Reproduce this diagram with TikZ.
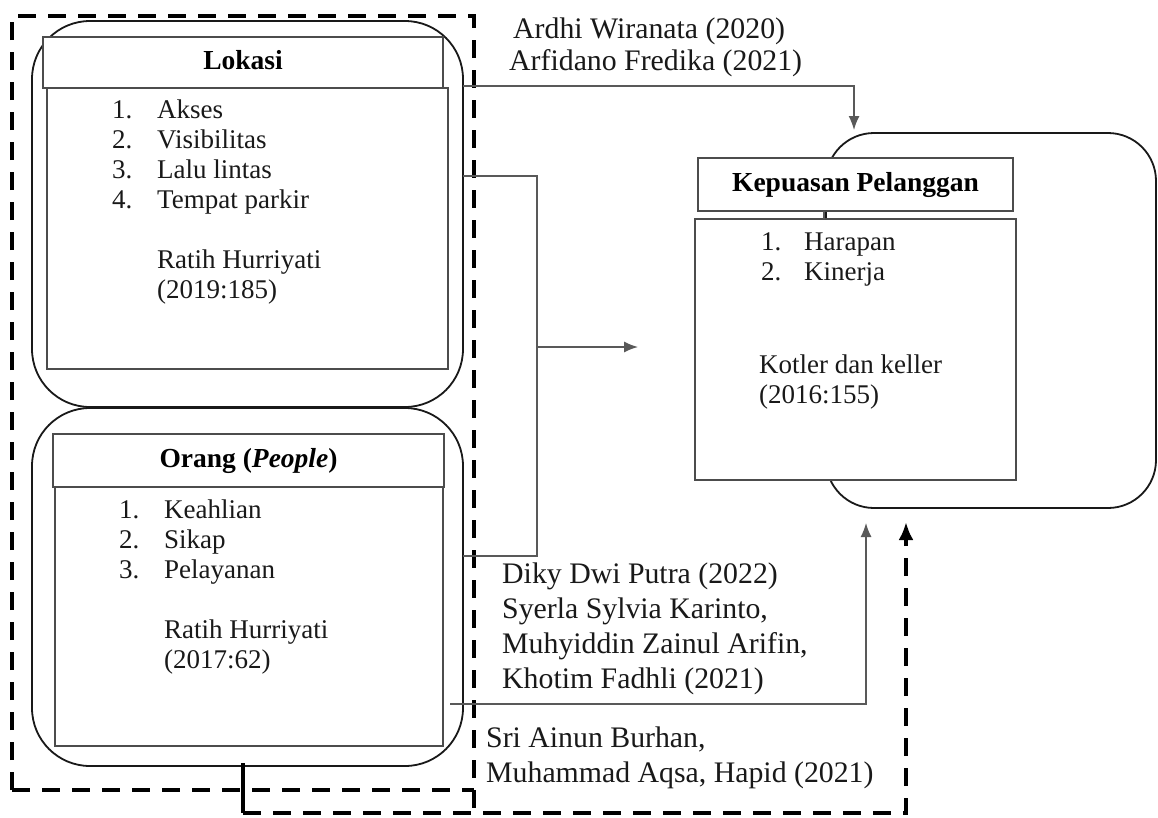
\documentclass[tikz,border=0pt]{standalone}
\usepackage{fontspec}
\setmainfont{Liberation Serif}
\usetikzlibrary{arrows.meta,calc}
\begin{document}
\begin{tikzpicture}[x=1pt,y=-1pt,
  rr/.style={draw=black!90,line width=1.8pt,rounded corners=#1,inner sep=0pt,outer sep=0pt},
  rr/.default=58pt,
  hbox/.style={draw=black!70,line width=1.6pt,fill=white,inner sep=0pt,outer sep=0pt,
    font=\fontsize{27.5}{30}\selectfont\bfseries,text height=18pt,text depth=4pt},
  bbox/.style={draw=black!70,line width=1.6pt,fill=white,inner sep=0pt,outer sep=0pt},
  itxt/.style={anchor=base west,inner sep=0pt,font=\fontsize{27}{30}\selectfont,text=black!90},
  otxt/.style={anchor=base west,inner sep=0pt,font=\fontsize{29.8}{35}\selectfont,text=black!90},
  conn/.style={draw=black!65,line width=1.4pt},
  arr/.style={-{Latex[length=14pt,width=11pt]}},
  dashline/.style={draw=black,line width=4pt,dash pattern=on 18pt off 12pt}
]
\useasboundingbox (0,0) rectangle (1158,817);
\fill[white] (0,0) rectangle (1158,817);

% dashed group boxes
\draw[dashline] (12,790) -- (12,16) -- (474,16) -- (474,813);
\draw[dashline] (12,790) -- (474,790);

% Lokasi
\node[rr,minimum width=431pt,minimum height=386pt] (lokRR) at (247.5,214) {};
\node[hbox,minimum width=400pt,minimum height=51pt] (lokHead) at (243,62.5) {Lokasi};
\node[bbox,minimum width=401pt,minimum height=281pt] (lokBody) at (247.5,228.5) {};
\node[itxt] (l1n) at (112,118) {1.};
\node[itxt] (l1) at (157,118) {Akses};
\node[itxt] (l2n) at (112,148) {2.};
\node[itxt] (l2) at (157,148) {Visibilitas};
\node[itxt] (l3n) at (112,178) {3.};
\node[itxt] (l3) at (157,178) {Lalu lintas};
\node[itxt] (l4n) at (112,208) {4.};
\node[itxt] (l4) at (157,208) {Tempat parkir};
\node[itxt] (lr1) at (157,268) {Ratih Hurriyati};
\node[itxt] (lr2) at (157,298) {(2019:185)};

% Orang
\node[rr,minimum width=431pt,minimum height=358pt] (orRR) at (247.5,587) {};
\node[hbox,minimum width=391pt,minimum height=53pt] (orHead) at (248.5,460.5) {Orang (\textit{People})};
\node[bbox,minimum width=388pt,minimum height=259pt] (orBody) at (249,616.5) {};
\node[itxt] (o1n) at (119,518) {1.};
\node[itxt] (o1) at (164,518) {Keahlian};
\node[itxt] (o2n) at (119,548) {2.};
\node[itxt] (o2) at (164,548) {Sikap};
\node[itxt] (o3n) at (119,578) {3.};
\node[itxt] (o3) at (164,578) {Pelayanan};
\node[itxt] (or1) at (164,638) {Ratih Hurriyati};
\node[itxt] (or2) at (164,668) {(2017:62)};

% Kepuasan Pelanggan
\node[rr=48pt,minimum width=330pt,minimum height=375pt] (kepRR) at (991,320.5) {};
\node[hbox,minimum width=315pt,minimum height=53pt] (kepHead) at (855.5,184.5) {Kepuasan Pelanggan};
\node[bbox,minimum width=321pt,minimum height=261pt] (kepBody) at (855.5,349.5) {};
\coordinate (kx) at (824,0);
\draw[conn] (kepHead.south -| kx) -- (kepBody.north -| kx);
\node[itxt] (k1n) at (761,250) {1.};
\node[itxt] (k1) at (804,250) {Harapan};
\node[itxt] (k2n) at (761,280) {2.};
\node[itxt] (k2) at (804,280) {Kinerja};
\node[itxt] (kr1) at (759,373) {Kotler dan keller};
\node[itxt] (kr2) at (759,403) {(2016:155)};

% reference labels
\node[otxt] (a1) at (513,38) {Ardhi Wiranata (2020)};
\node[otxt] (a2) at (509,70) {Arfidano Fredika (2021)};
\node[otxt] (d1) at (502,583) {Diky Dwi Putra (2022)};
\node[otxt] (d2) at (502,618) {Syerla Sylvia Karinto,};
\node[otxt] (d3) at (502,653) {Muhyiddin Zainul Arifin,};
\node[otxt] (d4) at (502,688) {Khotim Fadhli (2021)};
\node[otxt] (s1) at (486,747) {Sri Ainun Burhan,};
\node[otxt] (s2) at (486,782) {Muhammad Aqsa, Hapid (2021)};

% connectors
\coordinate (topin) at (854,130);
\draw[conn,arr] (lokRR.east |- 0,86) -| (topin);

\coordinate (brk) at (537,0);
\coordinate (brkTip) at (638,347);
\draw[conn] (lokRR.east |- 0,176) -| (brk |- 0,556) -- (orRR.east |- 0,556);
\draw[conn,arr] (brk |- brkTip) -- (brkTip);

\coordinate (botStart) at (450,704);
\coordinate (botTip) at (866,523);
\draw[conn,arr] (botStart) -| (botTip);

\coordinate (tickTop) at (243,763);
\coordinate (tickBot) at (243,813);
\coordinate (dashTip) at (906,522);
\draw[draw=black,line width=4pt] (tickTop) -- (tickBot);
\draw[dashline,-{Latex[length=18pt,width=15pt]}] (tickBot) -| (dashTip);
\end{tikzpicture}
\end{document}
